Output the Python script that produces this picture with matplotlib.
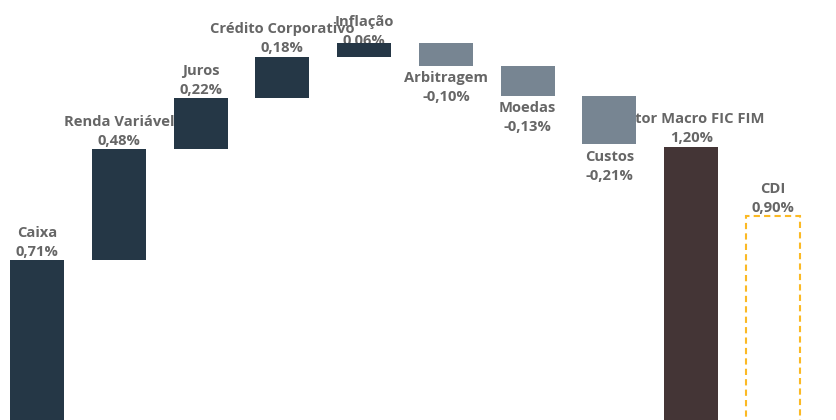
import numpy as np
import matplotlib.pyplot as plt

plt.rcParams['font.family'] = ['Open Sans', 'DejaVu Sans']

# waterfall contributions (%)
categories = ["Caixa", "Renda Variável", "Juros", "Crédito Corporativo", "Inflação",
              "Arbitragem", "Moedas", "Custos", "Fator Macro FIC FIM", "CDI"]
values = [0.71, 0.48, 0.22, 0.18, 0.06, -0.10, -0.13, -0.21, 1.20, 0.90]
value_labels = ["0,71%", "0,48%", "0,22%", "0,18%", "0,06%",
                "-0,10%", "-0,13%", "-0,21%", "1,20%", "0,90%"]
kinds = ["step"] * 8 + ["total", "benchmark"]

NAVY = "#253746"
GREY = "#778592"
BROWN = "#443536"
GOLD = "#FBB924"
TEXT = "#666666"

fig = plt.figure(figsize=(8.36, 4.20), dpi=100)
ax = fig.add_axes([0, 0, 1, 1])
ax.set_xlim(-0.452, 9.77)
ax.set_ylim(0.017, 1.835)
ax.axis("off")

x = np.arange(len(categories))
width = 0.66
running = 0.0
for i, (name, v, lab, kind) in enumerate(zip(categories, values, value_labels, kinds)):
    if kind == "step":
        bottom = running
        running += v
        color = NAVY if v >= 0 else GREY
        ax.bar(x[i], v, width, bottom=bottom, color=color, zorder=3)
        top = max(bottom, running)
        low = min(bottom, running)
    elif kind == "total":
        ax.bar(x[i], v, width, color=BROWN, zorder=3)
        top, low = v, 0
    else:
        ax.bar(x[i], v, width, facecolor="white", edgecolor=GOLD,
               linestyle=(0, (3, 2)), linewidth=1.5, zorder=3)
        top, low = v, 0

    txt = name + "\n" + lab
    if v >= 0:
        # labels near the top edge get pushed down (and go behind the bar)
        ypos = min(top, 1.62)
        ax.annotate(txt, (x[i], ypos), xytext=(0, 1), textcoords="offset points",
                    ha="center", va="bottom", multialignment="center",
                    fontsize=10.6, fontweight="bold", color=TEXT,
                    linespacing=1.45, zorder=1)
    else:
        ax.annotate(txt, (x[i], low), xytext=(0, -4), textcoords="offset points",
                    ha="center", va="top", multialignment="center",
                    fontsize=10.6, fontweight="bold", color=TEXT,
                    linespacing=1.45, zorder=1)

fig.savefig("out.png", dpi=100)
